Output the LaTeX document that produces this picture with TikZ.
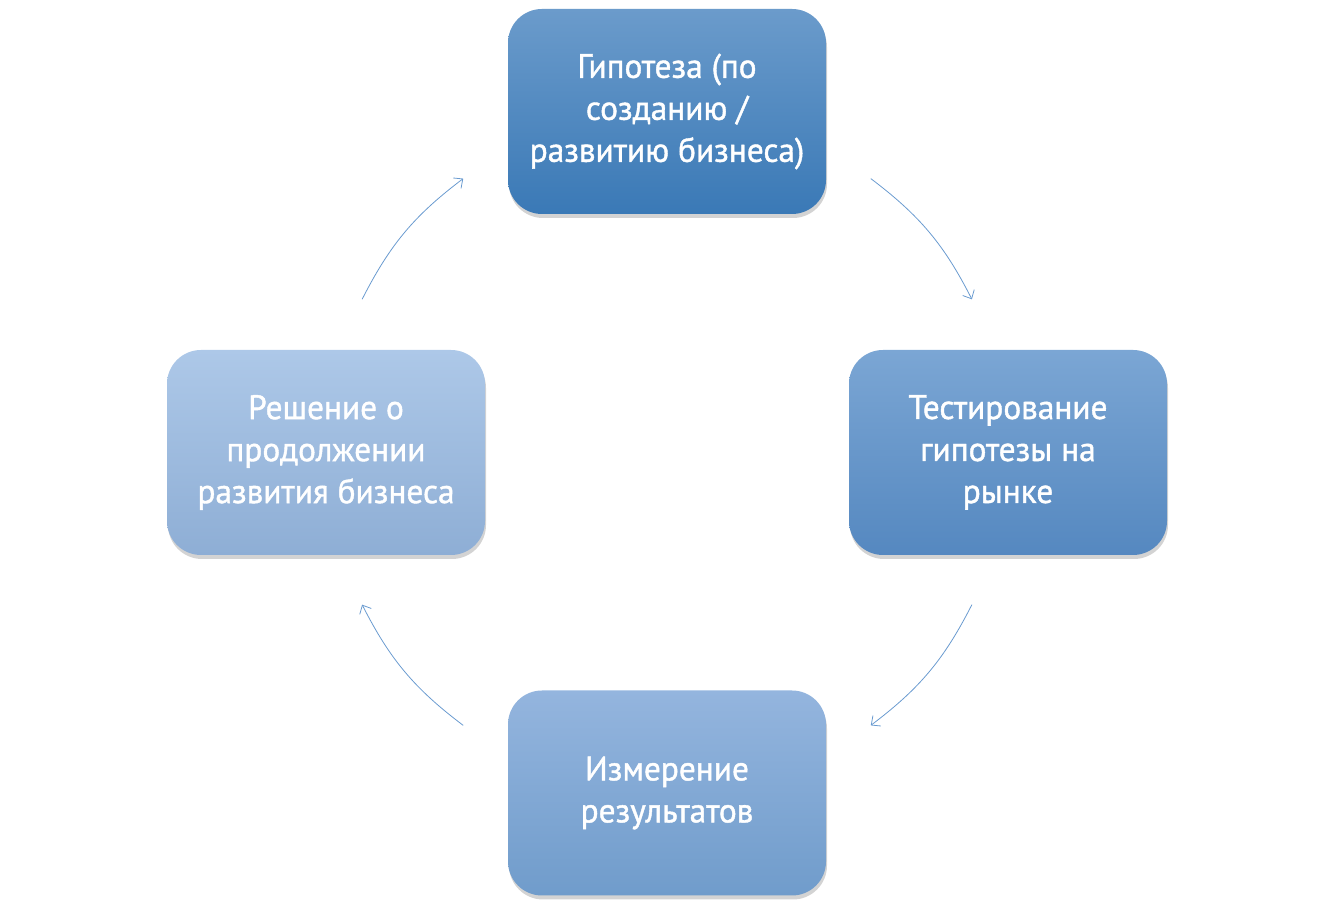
\documentclass[tikz,border=0pt]{standalone}
\usepackage{fontspec}
\setmainfont{PT Sans}[FakeStretch=0.98, FakeBold=1.2]
\usepackage{xcolor}
\usetikzlibrary{arrows.meta,shadows,calc}

\definecolor{hypTop}{HTML}{6B9BCB}
\definecolor{hypBot}{HTML}{3A79B6}
\definecolor{testTop}{HTML}{7BA6D4}
\definecolor{testBot}{HTML}{5588C0}
\definecolor{measTop}{HTML}{94B5DE}
\definecolor{measBot}{HTML}{709CCB}
\definecolor{decTop}{HTML}{ADC8E8}
\definecolor{decBot}{HTML}{8EAED5}
\definecolor{cycleBlue}{HTML}{6A9BD0}

\begin{document}
\begin{tikzpicture}[x=1pt, y=1pt,
    stage/.style={rounded corners=34pt, minimum width=318pt, minimum height=205pt,
        text width=300pt, align=flush center, text=white, font=\fontsize{34}{42}\selectfont,
        drop shadow={opacity=0.35, shadow xshift=1pt, shadow yshift=-4pt}},
    cycle/.style={cycleBlue, line width=0.8pt, -{Straight Barb[length=7pt, width=13pt]}}]
    \useasboundingbox (0,0) rectangle (1334,909);

    \node[stage, top color=hypTop, bottom color=hypBot] (hyp) at (667,797.5)
        {Гипотеза (по\\созданию /\\развитию бизнеса)};
    \node[stage, top color=testTop, bottom color=testBot] (test) at (1008,456.5)
        {Тестирование\\гипотезы на\\рынке};
    \node[stage, top color=measTop, bottom color=measBot] (meas) at (667,116)
        {Измерение\\результатов};
    \node[stage, top color=decTop, bottom color=decBot] (dec) at (326,456.5)
        {Решение о\\продолжении\\развития бизнеса};

    \coordinate (c) at (667,457);
    \coordinate (a1) at ($(c)+(53.3:341)$);
    \coordinate (a2) at ($(c)+(26.6:341)$);
    \coordinate (b1) at ($(c)+(-26.6:341)$);
    \coordinate (b2) at ($(c)+(-53.3:341)$);
    \coordinate (d1) at ($(c)+(233.3:341)$);
    \coordinate (d2) at ($(c)+(206.6:341)$);
    \coordinate (e1) at ($(c)+(153.4:341)$);
    \coordinate (e2) at ($(c)+(126.7:341)$);

    \draw[cycle] (a1) to[bend left=13] (a2);
    \draw[cycle] (b1) to[bend left=13] (b2);
    \draw[cycle] (d1) to[bend left=13] (d2);
    \draw[cycle] (e1) to[bend left=13] (e2);
\end{tikzpicture}
\end{document}
